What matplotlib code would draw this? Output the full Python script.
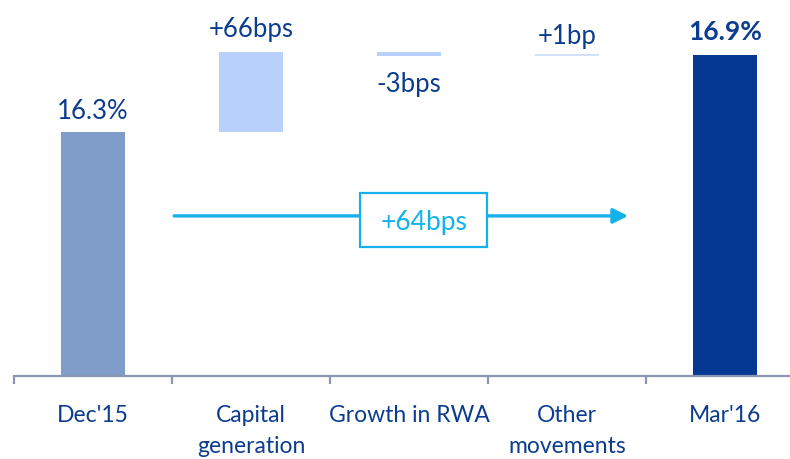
import matplotlib
matplotlib.use("Agg")
import matplotlib.pyplot as plt
from matplotlib.patches import Rectangle

categories = ["Dec'15", "Capital\ngeneration", "Growth in RWA", "Other\nmovements", "Mar'16"]
start_value = 16.3          # %
changes_bps = [66, -3, 1]   # bps
end_value = 16.94           # %
value_labels = ["16.3%", "+66bps", "-3bps", "+1bp", "16.9%"]
total_change_label = "+64bps"

plt.rcParams['font.family'] = ['Lato', 'DejaVu Sans']

TEXT = '#0B3C8E'
COL_START = '#7F9DC8'
COL_STEP = '#B7D1FB'
COL_END = '#043893'
CYAN = '#14B1EA'
AXIS = '#8C95B3'

fig = plt.figure(figsize=(7.9, 4.59), dpi=100)
ax = fig.add_axes([14/790, 1-376/459, 1-14/790, 376/459])

ymin, ymax = 14.29, 17.39
ax.set_ylim(ymin, ymax)
ax.set_xlim(-0.5, 4.41)

w = 0.405
# start bar
ax.bar(0, start_value - ymin, bottom=ymin, width=w, color=COL_START)
# steps
level = start_value
for i, d in enumerate(changes_bps, start=1):
    delta = d / 100.0
    lo, hi = min(level, level + delta), max(level, level + delta)
    h = max(hi - lo, 0.012)
    ax.bar(i, h, bottom=lo, width=w, color=COL_STEP if i < 3 else '#D3E2FA')
    level += delta
# end bar
ax.bar(4, end_value - ymin, bottom=ymin, width=w, color=COL_END)

# value labels
ax.text(0, start_value + 0.17, value_labels[0], ha='center', va='center', fontsize=18.5, color=TEXT)
ax.text(1, start_value + changes_bps[0]/100 + 0.19, value_labels[1], ha='center', va='center', fontsize=18.5, color=TEXT)
ax.text(2, 16.96 - 0.27, value_labels[2], ha='center', va='center', fontsize=18.5, color=TEXT)
ax.text(3, 16.94 + 0.15, value_labels[3], ha='center', va='center', fontsize=18.5, color=TEXT)
ax.text(4, end_value + 0.19, value_labels[4], ha='center', va='center', fontsize=19, color=TEXT, fontweight='bold')

# arrow with box
ay = 15.61
ax.annotate('', xy=(3.386, ay), xytext=(0.513, ay),
            arrowprops=dict(arrowstyle='-|>,head_length=0.9,head_width=0.45', color=CYAN, lw=2.4,
                            shrinkA=0, shrinkB=0))
bx0, bx1 = 1.69, 2.494
by0, by1 = 15.354, 15.80
ax.add_patch(Rectangle((bx0, by0), bx1 - bx0, by1 - by0, facecolor='white', edgecolor=CYAN, lw=1.6, zorder=3))
ax.text((bx0 + bx1) / 2, (by0 + by1) / 2 - 0.02, total_change_label, ha='center', va='center',
        fontsize=19, color=CYAN, zorder=4)

# axes styling
for s in ['top', 'right', 'left']:
    ax.spines[s].set_visible(False)
ax.spines['bottom'].set_color(AXIS)
ax.spines['bottom'].set_linewidth(1.6)
ax.set_yticks([])
ax.set_xticks(range(5))
ax.set_xticklabels(categories, fontsize=16.5, color=TEXT, linespacing=1.6, va='top')
ax.tick_params(axis='x', which='major', length=0, pad=21)
ax.set_xticks([-0.5, 0.5, 1.5, 2.5, 3.5], minor=True)
ax.tick_params(axis='x', which='minor', length=6, width=1.6, color=AXIS, direction='out')

fig.savefig('out.png', dpi=100)
